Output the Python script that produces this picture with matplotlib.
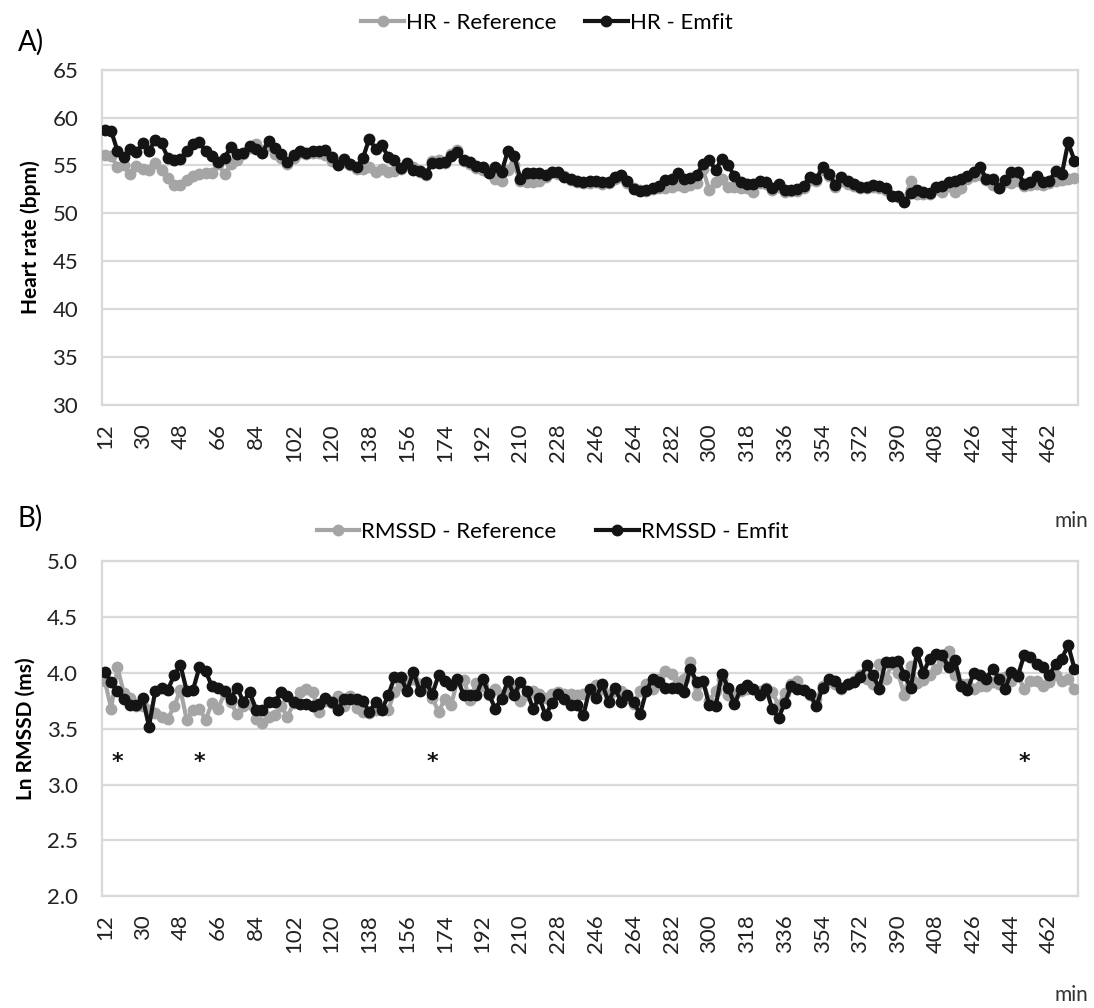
import numpy as np
import matplotlib
matplotlib.use("Agg")
import matplotlib.pyplot as plt

plt.rcParams['font.family'] = ['Lato', 'DejaVu Sans']

# minutes, one point every 3 min
minutes = np.arange(12, 475, 3)
tick_minutes = minutes[::6]

hr_reference = [
    56.1, 56.0, 54.8, 55.0, 54.1, 54.9, 54.6, 54.5, 55.3, 54.5,
    53.7, 53.0, 53.0, 53.5, 53.9, 54.1, 54.2, 54.2, 55.2, 54.1,
    55.1, 55.6, 56.2, 56.8, 57.2, 56.6, 57.0, 56.2, 55.8, 55.2,
    55.8, 56.3, 56.2, 56.3, 56.3, 56.1, 55.5, 55.3, 55.4, 55.0,
    54.6, 54.6, 54.8, 54.3, 54.6, 54.3, 54.4, 54.6, 55.2, 54.8,
    54.3, 54.0, 55.5, 55.6, 55.3, 56.2, 56.6, 55.5, 55.2, 54.7,
    54.5, 54.4, 53.6, 53.4, 54.5, 55.0, 53.4, 53.3, 53.3, 53.4,
    53.8, 54.3, 54.1, 53.9, 53.5, 53.3, 53.2, 53.2, 53.3, 53.1,
    53.2, 53.6, 53.8, 53.2, 52.6, 52.4, 52.3, 52.5, 52.6, 52.6,
    52.8, 53.0, 52.8, 53.0, 53.2, 54.6, 52.4, 53.3, 53.6, 52.8,
    52.8, 52.6, 52.6, 52.2, 53.2, 53.1, 52.4, 52.8, 52.2, 52.3,
    52.3, 52.7, 53.5, 53.4, 54.5, 53.9, 52.8, 53.4, 53.1, 52.9,
    52.7, 52.6, 52.8, 52.7, 52.4, 51.8, 51.7, 51.4, 53.4, 52.0,
    52.0, 52.0, 52.5, 52.2, 52.9, 52.2, 52.6, 53.6, 53.9, 54.0,
    53.5, 53.0, 52.6, 53.3, 53.2, 53.4, 52.9, 53.0, 53.1, 53.0,
    53.2, 53.4, 53.5, 53.6, 53.7]

hr_emfit = [
    58.7, 58.6, 56.5, 55.9, 56.7, 56.4, 57.3, 56.5, 57.7, 57.3,
    55.8, 55.6, 55.7, 56.5, 57.2, 57.4, 56.5, 56.0, 55.4, 55.8,
    56.9, 56.2, 56.3, 57.0, 56.7, 56.3, 57.6, 56.8, 56.2, 55.4,
    56.1, 56.5, 56.3, 56.5, 56.5, 56.6, 55.9, 55.0, 55.7, 55.2,
    54.8, 55.8, 57.8, 56.7, 57.1, 55.9, 55.6, 54.7, 55.3, 54.5,
    54.4, 54.1, 55.3, 55.3, 55.4, 56.0, 56.4, 55.6, 55.4, 54.9,
    54.8, 54.2, 54.8, 54.3, 56.5, 56.0, 53.6, 54.2, 54.2, 54.2,
    54.0, 54.3, 54.3, 53.8, 53.6, 53.4, 53.3, 53.4, 53.4, 53.3,
    53.3, 53.8, 54.0, 53.4, 52.5, 52.3, 52.4, 52.7, 52.9, 53.5,
    53.6, 54.2, 53.6, 53.7, 54.0, 55.1, 55.6, 54.5, 55.7, 55.0,
    53.9, 53.3, 53.1, 53.1, 53.4, 53.3, 52.6, 53.1, 52.4, 52.4,
    52.5, 52.9, 53.8, 53.6, 54.8, 54.1, 53.0, 53.8, 53.4, 53.1,
    52.8, 52.8, 53.0, 52.9, 52.7, 51.8, 51.8, 51.2, 52.1, 52.4,
    52.2, 52.1, 52.8, 52.9, 53.3, 53.4, 53.6, 53.9, 54.3, 54.8,
    53.6, 53.6, 52.7, 53.5, 54.3, 54.3, 53.1, 53.3, 53.9, 53.3,
    53.4, 54.4, 54.1, 57.4, 55.5]

rmssd_reference = [
    3.93, 3.68, 4.05, 3.82, 3.78, 3.70, 3.70, 3.67, 3.64, 3.61,
    3.59, 3.70, 3.85, 3.58, 3.67, 3.68, 3.58, 3.73, 3.68, 3.82,
    3.74, 3.63, 3.70, 3.72, 3.59, 3.55, 3.61, 3.62, 3.70, 3.61,
    3.73, 3.83, 3.86, 3.83, 3.65, 3.75, 3.73, 3.79, 3.70, 3.79,
    3.69, 3.65, 3.64, 3.67, 3.68, 3.67, 3.83, 3.89, 3.93, 3.95,
    3.90, 3.88, 3.78, 3.65, 3.77, 3.71, 3.94, 3.94, 3.76, 3.91,
    3.88, 3.80, 3.86, 3.80, 3.83, 3.86, 3.75, 3.80, 3.84, 3.81,
    3.78, 3.81, 3.83, 3.81, 3.81, 3.80, 3.81, 3.84, 3.89, 3.86,
    3.80, 3.84, 3.84, 3.78, 3.72, 3.84, 3.90, 3.86, 3.95, 4.02,
    3.99, 3.92, 3.95, 4.10, 3.80, 3.92, 3.75, 3.84, 3.95, 3.80,
    3.80, 3.84, 3.86, 3.86, 3.84, 3.87, 3.83, 3.71, 3.82, 3.90,
    3.93, 3.85, 3.80, 3.77, 3.88, 3.93, 3.90, 3.86, 3.90, 3.93,
    3.98, 3.95, 3.90, 4.08, 3.95, 4.08, 4.00, 3.80, 4.06, 3.91,
    3.94, 3.98, 4.04, 4.11, 4.20, 3.98, 3.90, 3.90, 3.86, 3.88,
    3.88, 3.92, 3.90, 3.96, 3.93, 3.98, 3.86, 3.93, 3.93, 3.88,
    3.92, 3.98, 3.93, 3.95, 3.86]

rmssd_emfit = [
    4.01, 3.92, 3.84, 3.77, 3.71, 3.71, 3.78, 3.52, 3.84, 3.87,
    3.85, 3.98, 4.07, 3.84, 3.85, 4.05, 4.02, 3.88, 3.87, 3.84,
    3.77, 3.87, 3.74, 3.83, 3.67, 3.67, 3.74, 3.74, 3.83, 3.79,
    3.74, 3.72, 3.72, 3.70, 3.72, 3.78, 3.74, 3.67, 3.77, 3.77,
    3.77, 3.75, 3.65, 3.74, 3.67, 3.80, 3.96, 3.96, 3.84, 4.01,
    3.84, 3.92, 3.81, 3.98, 3.93, 3.89, 3.95, 3.80, 3.80, 3.80,
    3.95, 3.81, 3.68, 3.77, 3.93, 3.80, 3.92, 3.84, 3.68, 3.78,
    3.62, 3.73, 3.81, 3.77, 3.71, 3.71, 3.62, 3.86, 3.78, 3.90,
    3.74, 3.87, 3.74, 3.80, 3.74, 3.63, 3.84, 3.95, 3.92, 3.87,
    3.87, 3.87, 3.83, 4.04, 3.92, 3.93, 3.71, 3.70, 3.99, 3.87,
    3.72, 3.86, 3.89, 3.86, 3.80, 3.86, 3.68, 3.60, 3.73, 3.88,
    3.86, 3.85, 3.81, 3.70, 3.87, 3.95, 3.93, 3.87, 3.90, 3.92,
    3.96, 4.07, 3.98, 3.86, 4.10, 4.10, 4.11, 3.98, 3.87, 4.19,
    4.00, 4.13, 4.17, 4.16, 4.05, 4.12, 3.88, 3.85, 4.00, 3.98,
    3.95, 4.04, 3.95, 3.86, 4.01, 3.97, 4.16, 4.14, 4.08, 4.05,
    3.98, 4.08, 4.13, 4.25, 4.04]

# significant differences marked with *
star_minutes = [18, 57, 168, 450]
star_level = 3.2

GRAY = '#a5a5a5'
BLACK = '#141414'
GRID = '#d9d9d9'


def style_axis(ax, ylim, yticks, fmt):
    ax.set_xlim(minutes[0] - 1.5, minutes[-1] + 1.5)
    ax.set_xticks(tick_minutes)
    ax.set_xticklabels([str(m) for m in tick_minutes], rotation=90)
    ax.set_ylim(*ylim)
    ax.set_yticks(yticks)
    ax.set_yticklabels([fmt.format(v) for v in yticks])
    ax.grid(axis='y', color=GRID, linewidth=1.6)
    ax.set_axisbelow(True)
    for s in ax.spines.values():
        s.set_color(GRID)
        s.set_linewidth(1.6)
    ax.tick_params(axis='both', length=0, labelsize=16, colors='#222222')
    ax.tick_params(axis='y', pad=17)
    ax.tick_params(axis='x', pad=13)


def draw_series(ax, ref, emfit):
    h1, = ax.plot(minutes, ref, color=GRAY, lw=3, marker='o', ms=7.5,
                  solid_joinstyle='round', zorder=3)
    h2, = ax.plot(minutes, emfit, color=BLACK, lw=3, marker='o', ms=7.5,
                  solid_joinstyle='round', zorder=4)
    return h1, h2


fig = plt.figure(figsize=(10.94, 10.08), dpi=100)

# A) heart rate
ax1 = fig.add_axes([0.093, 0.598, 0.892, 0.333])
h1, h2 = draw_series(ax1, hr_reference, hr_emfit)
style_axis(ax1, (30, 65), np.arange(65, 29, -5), '{:.0f}')
ax1.set_ylabel('Heart rate (bpm)', fontsize=15, fontweight='bold', labelpad=8)
fig.legend([h1, h2], ['HR - Reference', 'HR - Emfit'], loc='center',
           bbox_to_anchor=(0.5, 0.977), ncol=2, frameon=False, fontsize=16,
           handlelength=1.9, handletextpad=0.1, columnspacing=1.3)
fig.text(0.016, 0.958, 'A)', fontsize=20, va='center')
fig.text(0.979, 0.483, 'min', fontsize=15, ha='center', va='center', color='#333333')

# B) ln RMSSD
ax2 = fig.add_axes([0.093, 0.111, 0.892, 0.332])
h3, h4 = draw_series(ax2, rmssd_reference, rmssd_emfit)
style_axis(ax2, (2.0, 5.0), np.arange(5.0, 1.99, -0.5), '{:.1f}')
ax2.set_ylabel('Ln RMSSD (ms)', fontsize=15, fontweight='bold', labelpad=8)
for m in star_minutes:
    ax2.text(m, star_level, '*', fontsize=16, fontweight='bold',
             family='DejaVu Sans', ha='center', va='center', color='#111111')
fig.legend([h3, h4], ['RMSSD - Reference', 'RMSSD - Emfit'], loc='center',
           bbox_to_anchor=(0.505, 0.472), ncol=2, frameon=False, fontsize=16,
           handlelength=1.9, handletextpad=0.1, columnspacing=1.8)
fig.text(0.016, 0.486, 'B)', fontsize=20, va='center')
fig.text(0.979, 0.013, 'min', fontsize=15, ha='center', va='center', color='#333333')

fig.savefig('out.png', dpi=100, facecolor='white')
